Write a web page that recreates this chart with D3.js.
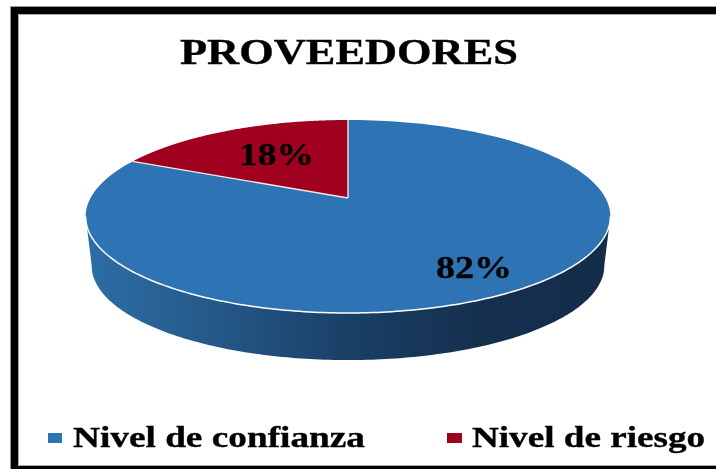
<!DOCTYPE html>
<html>
<head>
<meta charset="utf-8">
<script src="https://cdn.jsdelivr.net/npm/d3@7"></script>
<style>
html,body{margin:0;padding:0;background:#fff;overflow:hidden}
svg{display:block}
text{font-family:"Liberation Serif",serif;font-weight:bold;fill:#000;stroke:#000;stroke-width:0.35px;filter:url(#soft)}
</style>
</head>
<body>
<svg id="c" width="716" height="469"></svg>
<script>
const chartTitle = "PROVEEDORES";
const categories = ["Nivel de confianza", "Nivel de riesgo"];
const values = [82, 18];
const labels = ["82%", "18%"];
const colors = ["#2e74b5", "#a0001e"];

const svg = d3.select("#c");
const W = 716, H = 469;

// frame
svg.append("rect").attr("x",10).attr("y",6).attr("width",W+40).attr("height",H+20).attr("fill","#999");
svg.append("rect").attr("x",11).attr("y",7).attr("width",W+40).attr("height",H+20).attr("fill","#000");
svg.append("rect").attr("x",18).attr("y",14).attr("width",W+40).attr("height",452).attr("fill","#aaa");
svg.append("rect").attr("x",19).attr("y",15).attr("width",W+40).attr("height",450).attr("fill","#fff");

// perspective projection of the pie disc
const persp = 0.1917;
function project(a, cfg){
  const u = Math.sin(a), v = Math.cos(a), d = 1 + persp * v;
  return [cfg.cx + cfg.bx * u / d, cfg.cy - cfg.by * v / d];
}
const topDisc = {cx:348, cy:198, bx:257.5, by:92.95};
const botDisc = {cx:348, cy:248, bx:251.5, by:90.6};

const pie = d3.pie().sort(null).startAngle(0).endAngle(2*Math.PI);
const arcs = pie(values);
const line = d3.line();

function rim(a0, a1, cfg){
  return d3.range(0, 181).map(i => project(a0 + (a1-a0)*i/180, cfg));
}

const defs = svg.append("defs");
defs.append("filter").attr("id","soft").attr("x","-5%").attr("y","-10%").attr("width","110%").attr("height","120%")
  .append("feGaussianBlur").attr("stdDeviation",0.45);
const grad = defs.append("linearGradient").attr("id","wall")
  .attr("gradientUnits","userSpaceOnUse").attr("x1",88).attr("x2",608).attr("y1",0).attr("y2",0);
[[0,"#2c6ea6"],[0.25,"#245888"],[0.5,"#1a3f66"],[0.75,"#15304f"],[1,"#132c48"]]
  .forEach(s => grad.append("stop").attr("offset",s[0]).attr("stop-color",s[1]));

// visible wall: front half of the disc
const frontStart = Math.PI - Math.acos(persp), frontEnd = Math.PI + Math.acos(persp);
const wallPts = rim(frontStart, frontEnd, topDisc).concat(rim(frontEnd, frontStart, botDisc));
svg.append("path").attr("d", line(wallPts)+"Z").attr("fill","url(#wall)");

// top slices
svg.selectAll("path.slice").data(arcs).join("path").attr("class","slice")
  .attr("d", d => line([[topDisc.cx, topDisc.cy]].concat(rim(d.startAngle, d.endAngle, topDisc)))+"Z")
  .attr("fill", (d,i) => colors[i])
  .attr("stroke", "none");

// white slice separators and front rim
arcs.forEach(d => {
  svg.append("path")
    .attr("d", line([project(d.startAngle, topDisc), [topDisc.cx, topDisc.cy]]))
    .attr("fill","none").attr("stroke","#f2e8ea").attr("stroke-width",1.4);
});
svg.append("path").attr("d", line(rim(frontStart, frontEnd, topDisc)))
  .attr("fill","none").attr("stroke","#fff").attr("stroke-width",1.5);

// title
svg.append("text").attr("x",180).attr("y",64).attr("font-size",36)
  .attr("textLength",338).attr("lengthAdjust","spacingAndGlyphs").text(chartTitle);

// value labels
const labelPos = [[436,278,76,31],[239,165,75,32]];
svg.selectAll("text.val").data(labels).join("text").attr("class","val")
  .attr("x",(d,i)=>labelPos[i][0]).attr("y",(d,i)=>labelPos[i][1])
  .attr("font-size",(d,i)=>labelPos[i][3])
  .attr("textLength",(d,i)=>labelPos[i][2]).attr("lengthAdjust","spacingAndGlyphs")
  .text(d=>d);

// legend
const legendPos = [[48,14,73,292],[447,15,472,233]];
categories.forEach((c,i)=>{
  const p = legendPos[i];
  svg.append("rect").attr("x",p[0]).attr("y",433).attr("width",p[1]).attr("height",10).attr("fill",colors[i]);
  svg.append("text").attr("x",p[2]).attr("y",447).attr("font-size",29)
    .attr("textLength",p[3]).attr("lengthAdjust","spacingAndGlyphs").text(c);
});
</script>
</body>
</html>
